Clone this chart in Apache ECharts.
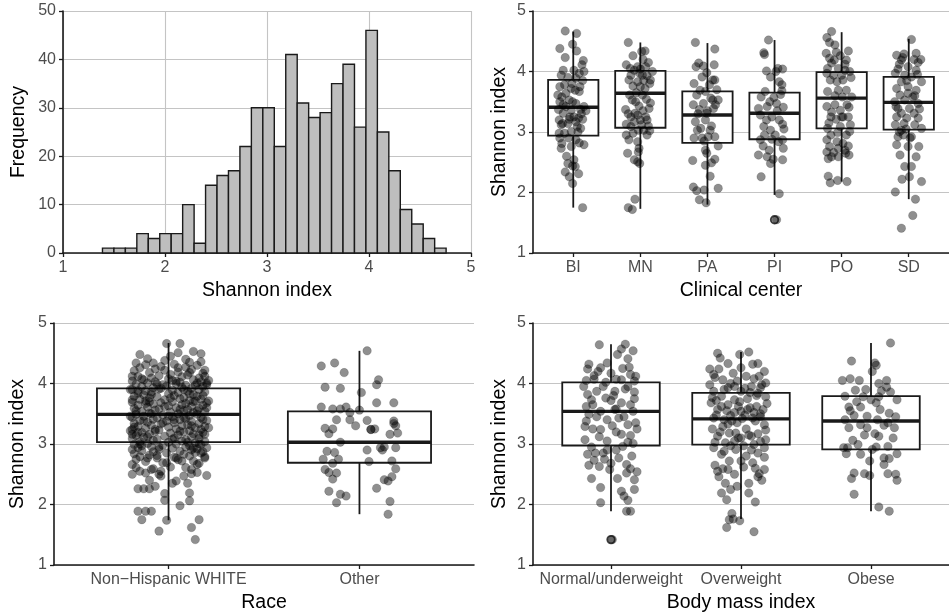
<!DOCTYPE html>
<html>
<head>
<meta charset="utf-8">
<script src="https://cdn.jsdelivr.net/npm/echarts@6/dist/echarts.min.js"></script>
<style>
html,body{margin:0;padding:0;background:#fff;}
#chart{width:949px;height:616px;}
</style>
</head>
<body>
<div id="chart"></div>
<script>
// ---------------- DATA ----------------
// Histogram (30 bins)
const histCounts = [1,1,1,4,3,4,4,10,2,14,16,17,22,30,30,22,41,31,28,29,35,39,26,46,25,17,9,6,3,1];
const histBinStart = 1.387;
const histBinWidth = 0.1123;

// Clinical center
const centerNames = ['BI','MN','PA','PI','PO','SD'];
// [lower whisker, Q1, median, Q3, upper whisker]
const centerBoxes = [
  [1.75,2.94,3.41,3.86,4.66],
  [1.73,3.07,3.64,4.01,4.48],
  [1.80,2.82,3.28,3.67,4.47],
  [1.96,2.88,3.31,3.65,4.52],
  [2.18,3.06,3.56,3.99,4.65],
  [1.89,3.04,3.49,3.91,4.54]
];
const centerOutliers = [[],[],[],[1.55],[],[]];
// jittered points: [jitter offset, Shannon index]
const ptsBI = [[-0.12,4.67],[0.05,4.63],[-0.01,4.45],[-0.20,4.38],[0.05,4.34],[-0.12,4.23],[0.15,4.18],[0.13,4.11],[-0.15,4.02],[0.01,4.02],[0.09,3.97],[-0.18,3.94],[-0.08,3.90],[0.04,3.89],[-0.02,3.80],[-0.13,3.78],[0.14,3.85],[-0.20,3.75],[-0.03,3.72],[0.03,3.69],[0.09,3.67],[-0.11,3.64],[-0.17,3.58],[-0.06,3.53],[-0.01,3.50],[0.04,3.47],[-0.20,3.50],[0.16,3.42],[0.11,3.37],[-0.11,3.42],[-0.22,3.37],[-0.03,3.36],[-0.15,3.31],[0.01,3.25],[0.08,3.23],[-0.06,3.21],[-0.21,3.20],[0.14,3.21],[-0.08,3.14],[0.04,3.17],[-0.18,3.12],[0.11,3.06],[-0.03,3.01],[-0.13,2.98],[-0.20,2.90],[-0.07,2.90],[0.04,2.87],[-0.17,2.81],[0.09,2.82],[0.16,2.79],[-0.18,2.73],[-0.03,2.76],[0.01,2.54],[0.03,2.43],[-0.12,2.34],[0.08,2.31],[-0.06,2.26],[-0.01,2.15],[0.14,1.75],[-0.01,2.44],[-0.08,2.48],[-0.21,2.98],[0.06,3.09],[-0.16,3.14],[-0.23,3.61],[0.19,3.35],[0.10,3.75],[-0.15,3.45],[0.12,3.30],[-0.05,3.25],[0.07,3.00],[-0.10,2.60],[0.16,4.00]];
const ptsMN = [[-0.18,4.48],[0.02,4.33],[0.07,4.34],[-0.11,4.26],[0.04,4.20],[-0.21,4.11],[-0.04,4.08],[0.08,4.08],[0.00,4.04],[-0.09,4.02],[0.18,4.00],[-0.14,3.94],[0.03,3.94],[0.10,3.93],[-0.17,3.86],[-0.04,3.83],[0.14,3.80],[-0.11,3.76],[0.00,3.75],[0.07,3.72],[-0.16,3.61],[-0.07,3.50],[0.09,3.54],[-0.02,3.43],[-0.22,3.37],[0.13,3.39],[0.04,3.35],[-0.14,3.25],[-0.04,3.28],[0.08,3.25],[-0.21,3.13],[-0.09,3.17],[0.00,3.20],[0.12,3.10],[-0.14,3.09],[0.05,3.03],[-0.03,3.03],[-0.21,2.95],[0.10,2.95],[-0.17,2.87],[-0.04,2.84],[-0.02,2.73],[-0.19,2.65],[-0.03,2.67],[-0.09,2.54],[-0.04,2.51],[-0.01,2.48],[-0.08,1.89],[-0.18,1.75],[-0.12,1.72],[0.15,3.86],[-0.12,3.53],[0.03,3.61],[-0.08,3.31],[0.10,3.20],[-0.01,3.97],[0.12,4.15],[-0.15,4.05],[0.05,3.85],[-0.06,3.65],[0.15,3.48],[-0.18,3.30],[0.02,3.12],[0.14,3.02],[-0.11,2.98]];
const ptsPA = [[-0.18,4.48],[0.11,4.37],[-0.13,4.14],[-0.06,4.09],[0.10,4.11],[-0.17,4.08],[-0.01,3.98],[-0.08,3.91],[0.08,3.86],[0.11,3.86],[-0.20,3.80],[0.03,3.78],[-0.11,3.69],[-0.03,3.67],[-0.16,3.61],[0.05,3.56],[0.16,3.53],[-0.21,3.45],[-0.06,3.47],[0.09,3.39],[-0.12,3.37],[-0.01,3.31],[-0.18,3.17],[-0.03,3.20],[-0.10,3.06],[-0.15,3.03],[0.04,3.03],[0.11,2.92],[-0.20,2.90],[-0.08,2.90],[0.01,2.92],[0.16,2.77],[-0.03,2.70],[-0.01,2.65],[-0.22,2.53],[0.11,2.55],[-0.03,2.45],[0.06,2.49],[0.04,2.27],[-0.21,2.09],[-0.16,2.03],[0.16,2.07],[-0.05,2.04],[-0.12,1.88],[-0.02,1.83],[0.08,3.53],[0.00,3.35],[0.14,3.70],[-0.14,3.30],[0.06,3.10],[-0.05,2.85],[0.12,3.45]];
const ptsPI = [[-0.09,4.52],[-0.16,4.31],[-0.15,4.28],[-0.12,4.01],[0.12,4.04],[0.02,4.00],[-0.06,3.91],[0.07,3.83],[0.11,3.78],[-0.14,3.67],[-0.01,3.57],[0.11,3.68],[-0.20,3.58],[-0.07,3.50],[0.03,3.47],[-0.24,3.39],[-0.11,3.42],[0.13,3.41],[-0.21,3.28],[-0.04,3.25],[0.07,3.20],[-0.16,3.09],[0.12,3.13],[-0.06,3.03],[0.01,2.95],[-0.15,2.95],[-0.21,2.87],[-0.04,2.88],[0.06,2.84],[0.12,2.87],[-0.17,2.77],[0.13,2.73],[-0.24,2.62],[-0.11,2.59],[-0.02,2.55],[0.12,2.54],[-0.06,2.48],[-0.20,2.26],[0.07,1.98],[0.03,1.55],[0.09,3.62],[-0.12,3.20],[0.04,3.35],[0.14,3.05],[-0.08,2.70],[0.05,4.05]];
const ptsPO = [[-0.15,4.66],[-0.22,4.56],[-0.18,4.48],[0.10,4.34],[-0.10,4.44],[-0.23,4.30],[-0.02,4.26],[0.07,4.19],[-0.15,4.14],[-0.21,4.05],[-0.05,4.05],[0.05,4.02],[0.12,4.00],[-0.12,3.94],[-0.22,3.97],[0.00,3.94],[-0.17,3.86],[-0.07,3.83],[-0.21,3.67],[-0.05,3.69],[0.07,3.69],[0.01,3.58],[-0.22,3.42],[-0.10,3.45],[0.11,3.41],[-0.02,3.36],[-0.16,3.25],[0.02,3.25],[0.10,3.25],[-0.08,3.21],[-0.21,3.06],[-0.02,3.09],[0.12,3.01],[-0.16,2.95],[0.07,2.95],[-0.22,2.87],[-0.07,2.84],[0.02,2.81],[-0.18,2.76],[0.10,2.77],[-0.05,2.73],[-0.22,2.67],[-0.12,2.66],[0.06,2.65],[-0.20,2.56],[-0.05,2.59],[-0.15,2.59],[0.11,2.62],[-0.20,2.27],[-0.17,2.16],[-0.06,2.20],[0.08,2.18],[-0.11,4.19],[0.02,3.86],[0.00,3.25],[0.05,4.12],[-0.18,4.22],[0.14,3.90],[-0.10,3.60],[0.08,3.45],[-0.15,3.33],[0.13,3.12],[-0.06,2.99],[0.05,2.70],[-0.19,3.15],[0.15,3.58],[-0.08,4.32]];
const ptsSD = [[0.04,4.53],[-0.18,4.27],[-0.07,4.29],[0.11,4.30],[-0.11,4.19],[0.08,4.20],[0.14,4.15],[-0.16,4.04],[-0.01,4.08],[-0.20,3.97],[0.11,4.02],[-0.06,3.94],[0.04,3.91],[-0.11,3.83],[0.19,3.83],[-0.18,3.72],[-0.01,3.75],[0.11,3.69],[-0.13,3.61],[0.06,3.58],[-0.06,3.53],[-0.21,3.50],[0.14,3.47],[-0.16,3.39],[0.01,3.39],[-0.11,3.31],[0.08,3.31],[-0.18,3.25],[0.14,3.23],[-0.03,3.23],[-0.20,3.12],[0.19,3.06],[-0.11,3.03],[-0.16,2.92],[-0.08,2.95],[0.04,2.92],[-0.18,2.79],[-0.01,2.76],[0.15,2.76],[-0.13,2.62],[0.11,2.59],[-0.06,2.43],[0.04,2.43],[-0.10,2.22],[0.01,2.26],[0.19,2.18],[-0.20,2.01],[0.10,1.89],[0.06,1.62],[-0.11,1.41],[-0.01,3.64],[-0.07,3.14],[-0.14,4.12],[0.13,3.95],[-0.03,3.85],[0.09,3.60],[-0.19,3.42],[0.16,3.38],[-0.04,3.05],[0.09,3.12],[-0.14,3.00],[0.02,2.90],[0.18,4.20],[-0.09,4.23]];

// Race
const raceNames = ['Non\u2212Hispanic WHITE','Other'];
const raceBoxes = [
  [1.74,3.03,3.49,3.92,4.67],
  [1.84,2.69,3.03,3.54,4.54]
];
const raceOutliers = [[],[]];
const ptsNHW = [[-0.01,4.66],[0.06,4.66],[-0.15,4.48],[0.13,4.53],[0.17,4.49],[0.05,4.51],[-0.17,4.34],[-0.08,4.34],[0.01,4.45],[0.11,4.35],[0.19,4.22],[-0.19,4.12],[0.20,4.01],[-0.19,3.73],[0.21,3.71],[-0.20,3.46],[0.21,3.27],[-0.19,3.16],[0.20,2.94],[-0.19,2.91],[-0.19,2.66],[0.19,2.79],[0.20,2.48],[-0.15,2.55],[-0.12,2.52],[-0.09,2.58],[-0.05,2.50],[0.09,2.61],[0.12,2.51],[-0.16,2.26],[-0.13,2.26],[-0.10,2.26],[-0.07,2.30],[-0.02,2.18],[0.10,2.35],[0.11,2.19],[-0.02,2.07],[0.11,2.06],[0.06,1.98],[-0.16,1.89],[-0.12,1.89],[-0.09,1.89],[-0.14,1.75],[-0.01,1.74],[0.16,1.75],[-0.05,1.56],[0.12,1.62],[0.14,1.42],[-0.04,2.47],[-0.01,2.69],[0.04,2.39],[0.15,2.66],[0.08,2.47],[-0.17,2.75],[-0.11,2.77],[-0.06,2.77],[0.04,2.77],[0.13,2.72],[0.17,2.85],
[-0.12,4.31],[-0.04,4.28],[0.03,4.32],[0.09,4.27],[0.15,4.30],[-0.18,4.21],[-0.10,4.18],[-0.02,4.22],[0.05,4.19],[0.12,4.23],[0.18,4.17],[-0.16,4.12],[-0.09,4.09],[-0.05,4.13],[0.00,4.08],[0.07,4.11],[0.10,4.14],[0.16,4.09],[0.19,4.12],[-0.19,4.04],[-0.13,4.06],[-0.07,4.03],[0.02,4.05],[0.06,4.02],[0.13,4.06],[0.17,4.03],[-0.17,3.99],[-0.11,4.01],[-0.03,3.98],[0.04,4.00],[0.09,3.97],[0.15,4.01],[0.20,3.98],[-0.14,3.95],[-0.08,3.93],[-0.01,3.96],[0.07,3.94],[0.12,3.92],[0.18,3.95],[-0.19,3.90],[-0.12,3.88],[-0.05,3.91],[0.02,3.89],[0.10,3.87],[0.16,3.90],[-0.16,3.84],[-0.09,3.86],[0.00,3.83],[0.05,3.85],[0.13,3.82],[0.19,3.86],[-0.18,3.79],[-0.13,3.81],[-0.06,3.78],[0.03,3.80],[0.08,3.77],[0.15,3.79],[-0.15,3.74],[-0.10,3.76],[-0.02,3.73],[0.06,3.75],[0.11,3.72],[0.17,3.74],[-0.19,3.69],[-0.12,3.71],[-0.04,3.68],[0.02,3.70],[0.09,3.67],[0.14,3.71],[0.20,3.68],[-0.16,3.64],[-0.08,3.66],[0.00,3.63],[0.07,3.65],[0.12,3.62],[0.18,3.64],[-0.18,3.59],[-0.11,3.61],[-0.05,3.58],[0.04,3.60],[0.10,3.57],[0.16,3.59],[-0.14,3.54],[-0.07,3.56],[0.01,3.53],[0.08,3.55],[0.13,3.52],[0.19,3.54],[-0.17,3.49],[-0.10,3.51],[-0.03,3.48],[0.05,3.50],[0.11,3.47],[0.15,3.49],[-0.19,3.44],[-0.13,3.46],[-0.06,3.43],[0.02,3.45],[0.09,3.42],[0.17,3.44],[-0.15,3.39],[-0.08,3.41],[-0.01,3.38],[0.06,3.40],[0.12,3.37],[0.20,3.39],[-0.18,3.34],[-0.11,3.36],[-0.04,3.33],[0.03,3.35],[0.10,3.32],[0.16,3.34],[-0.16,3.29],[-0.09,3.31],[0.00,3.28],[0.07,3.30],[0.14,3.27],[0.19,3.29],[-0.19,3.24],[-0.12,3.26],[-0.05,3.23],[0.04,3.25],[0.11,3.22],[0.17,3.24],[-0.14,3.19],[-0.07,3.21],[0.01,3.18],[0.08,3.20],[0.13,3.17],[0.18,3.19],[-0.17,3.14],[-0.10,3.16],[-0.02,3.13],[0.05,3.15],[0.12,3.12],[-0.19,3.09],[-0.13,3.11],[-0.06,3.08],[0.03,3.10],[0.09,3.07],[0.16,3.09],[-0.15,3.04],[-0.08,3.06],[0.00,3.03],[0.07,3.05],[0.14,3.02],[0.19,3.04],[-0.18,2.99],[-0.11,3.01],[-0.03,2.98],[0.04,3.00],[0.11,2.97],[0.17,2.99],[-0.16,2.94],[-0.09,2.96],[0.02,2.93],[0.09,2.95],[0.15,2.92],[-0.14,2.89],[-0.05,2.91],[0.06,2.88],[0.12,2.90],[0.18,2.87],[-0.18,2.84],[-0.10,2.82],[-0.01,2.85],[0.08,2.83],[0.14,2.86],[-0.15,2.79],[-0.06,2.81],[0.03,2.78],[0.11,2.80],[0.19,2.77],[-0.12,2.71],[-0.03,2.69],[0.07,2.72],[0.16,2.68],[-0.17,2.61],[-0.08,2.59],[0.01,2.62],[0.12,2.58],
[-0.07,4.24],[0.01,4.15],[0.11,4.18],[-0.14,4.08],[0.04,4.04],[0.14,3.97],[-0.04,3.92],[0.08,3.90],[-0.16,3.88],[0.18,3.80],[-0.09,3.82],[0.01,3.76],[0.13,3.70],[-0.12,3.67],[-0.02,3.62],[0.06,3.57],[0.15,3.55],[-0.17,3.55],[-0.09,3.50],[0.00,3.46],[0.08,3.44],[0.18,3.41],[-0.13,3.39],[-0.03,3.35],[0.12,3.30],[-0.18,3.28],[-0.07,3.24],[0.06,3.21],[0.16,3.15],[-0.11,3.12],[0.02,3.08],[0.10,3.03],[-0.15,3.00],[-0.05,2.95],[0.13,2.93],[-0.20,3.22],[0.20,3.60],[-0.20,3.90],[0.21,4.05],[-0.02,4.38],[0.09,4.40],[-0.11,4.41],[0.17,4.36],[-0.15,4.26],[0.05,4.26],[-0.06,3.99],[0.11,3.83],[-0.10,3.70],[0.03,3.40],[-0.16,3.19],[0.16,3.00],[-0.08,2.87],[0.05,2.74],[-0.14,2.97],[0.19,3.16],[-0.04,2.55],[0.15,2.53],[-0.19,2.50],[0.02,2.35],[-0.10,2.40]];
const ptsOther = [[0.04,4.54],[-0.20,4.29],[-0.13,4.34],[-0.08,4.18],[0.10,4.06],[0.09,3.98],[-0.18,3.94],[-0.10,3.92],[0.01,3.85],[0.09,3.68],[0.18,3.68],[-0.20,3.61],[-0.14,3.58],[-0.10,3.58],[-0.07,3.61],[-0.05,3.52],[0.00,3.56],[-0.12,3.40],[-0.05,3.40],[0.04,3.39],[0.18,3.38],[0.19,3.30],[-0.02,3.30],[-0.18,3.26],[-0.14,3.25],[0.06,3.24],[0.08,3.25],[-0.16,3.17],[0.16,3.16],[0.20,3.18],[-0.10,3.03],[0.11,2.94],[0.13,2.95],[0.12,2.90],[0.19,2.94],[-0.17,2.88],[-0.13,2.86],[0.04,2.90],[-0.19,2.75],[-0.11,2.75],[0.05,2.71],[0.17,2.72],[-0.14,2.68],[-0.18,2.58],[-0.16,2.53],[-0.12,2.52],[0.19,2.59],[-0.14,2.42],[0.13,2.41],[0.15,2.39],[0.17,2.46],[0.09,2.27],[-0.16,2.22],[-0.10,2.17],[-0.07,2.14],[-0.12,2.03],[0.16,2.05],[0.15,1.84],[0.18,3.34],[0.06,3.24]];

// Body mass index
const bmiNames = ['Normal/underweight','Overweight','Obese'];
const bmiBoxes = [
  [1.89,2.975,3.54,4.02,4.65],
  [1.76,2.99,3.415,3.845,4.52],
  [1.89,2.91,3.38,3.79,4.67]
];
const bmiOutliers = [[1.42],[],[]];
const ptsNormal = [[-0.09,4.64],[0.11,4.65],[0.08,4.57],[0.17,4.54],[0.13,4.41],[0.05,4.48],[-0.17,4.32],[-0.03,4.34],[0.14,4.27],[-0.08,4.26],[-0.18,4.24],[0.00,4.17],[0.15,4.15],[0.19,4.12],[-0.13,4.13],[0.08,4.06],[-0.04,4.02],[-0.21,3.95],[0.11,3.91],[0.18,4.04],[-0.11,3.87],[0.03,3.87],[-0.18,3.82],[0.18,3.86],[-0.04,3.76],[-0.15,3.73],[0.00,3.72],[0.08,3.68],[-0.19,3.62],[0.15,3.65],[0.04,3.58],[-0.08,3.54],[0.17,3.54],[-0.17,3.49],[-0.11,3.45],[0.06,3.43],[-0.03,3.40],[-0.20,3.29],[0.13,3.32],[-0.14,3.25],[0.20,3.25],[-0.08,3.24],[0.04,3.20],[0.08,3.16],[0.15,3.14],[-0.20,3.07],[-0.03,3.05],[0.13,3.03],[0.17,3.01],[0.09,2.96],[-0.12,2.85],[-0.18,2.83],[-0.06,2.85],[0.06,2.77],[-0.13,2.73],[0.00,2.68],[0.12,2.66],[-0.09,2.63],[-0.17,2.65],[-0.01,2.58],[0.15,2.59],[0.20,2.54],[0.12,2.52],[-0.15,2.43],[0.05,2.43],[0.18,2.41],[-0.08,2.28],[0.18,2.25],[0.08,2.22],[0.10,2.14],[0.13,2.07],[-0.08,2.03],[0.12,1.89],[0.15,1.89],[0.01,1.42],[-0.03,2.90],[0.03,3.57],[-0.13,4.07],[0.04,4.07],[-0.10,4.20],[0.09,4.25],[-0.19,4.05],[0.13,3.95],[-0.06,3.95],[0.02,3.80],[-0.14,3.65],[0.18,3.75],[0.10,3.45],[-0.19,3.38],[0.01,3.30],[-0.09,3.12],[0.19,3.35],[-0.15,2.95],[0.04,2.90],[0.16,2.80],[-0.05,2.75]];
const ptsOverweight = [[-0.18,4.50],[0.06,4.52],[-0.16,4.42],[-0.01,4.48],[0.13,4.33],[-0.10,4.33],[0.09,4.32],[-0.24,4.24],[-0.17,4.24],[0.00,4.26],[0.18,4.20],[-0.21,4.15],[-0.06,4.17],[0.04,4.12],[0.14,4.12],[-0.14,4.06],[-0.03,4.04],[0.19,4.01],[-0.24,3.98],[0.08,3.95],[-0.10,3.93],[-0.21,3.87],[0.00,3.87],[0.13,3.84],[-0.15,3.79],[0.19,3.78],[-0.05,3.73],[0.05,3.75],[-0.23,3.68],[-0.10,3.65],[0.12,3.62],[-0.18,3.57],[0.00,3.54],[0.17,3.57],[-0.08,3.47],[-0.21,3.43],[0.09,3.43],[-0.03,3.35],[-0.14,3.29],[0.18,3.32],[-0.22,3.25],[0.04,3.25],[-0.09,3.18],[0.13,3.17],[-0.18,3.13],[0.00,3.10],[0.19,3.07],[-0.12,3.02],[0.10,2.99],[-0.21,2.94],[-0.04,2.91],[0.18,2.94],[-0.15,2.83],[0.04,2.80],[0.13,2.85],[-0.09,2.72],[0.00,2.72],[0.09,2.69],[-0.14,2.59],[0.18,2.58],[0.14,2.51],[-0.18,2.55],[-0.10,2.58],[-0.17,2.46],[0.13,2.46],[0.06,2.35],[-0.08,2.25],[-0.03,2.30],[-0.15,2.19],[0.06,2.19],[-0.11,2.08],[0.11,2.04],[-0.07,1.85],[-0.09,1.75],[-0.06,1.76],[-0.01,1.73],[-0.11,1.62],[0.10,1.55],[-0.05,3.95],[0.05,3.57],[-0.05,3.05],[0.15,3.93],[-0.13,3.40],[0.08,3.13],[-0.02,3.62],[0.03,3.48],[-0.07,3.38],[0.10,3.52],[-0.19,3.72],[0.15,3.45],[-0.11,3.55],[0.07,3.85],[-0.04,3.18],[0.02,2.97],[-0.20,4.10],[0.10,4.08],[-0.08,4.00],[0.16,3.98],[-0.13,3.90],[0.03,3.92],[0.12,3.80],[-0.22,3.77],[-0.01,3.70],[0.20,3.67],[-0.15,3.62],[0.07,3.60],[-0.05,3.52],[0.15,3.50],[-0.19,3.48],[0.01,3.42],[0.11,3.38],[-0.10,3.33],[0.19,3.23],[-0.16,3.20],[0.06,3.15],[-0.02,3.10],[0.15,3.04],[-0.20,3.03],[-0.08,2.97],[0.08,2.90],[-0.13,2.88],[0.18,2.78],[0.02,2.62],[-0.20,2.65],[0.11,2.60],[-0.05,2.50],[0.16,2.40],[-0.12,2.35]];
const ptsObese = [[0.15,4.67],[-0.15,4.37],[0.03,4.34],[0.04,4.30],[0.01,4.20],[-0.22,4.05],[-0.16,4.08],[-0.09,4.05],[0.12,4.05],[0.06,4.00],[0.12,3.94],[-0.04,3.90],[-0.12,3.89],[0.15,3.86],[-0.20,3.79],[-0.06,3.78],[0.06,3.78],[0.00,3.73],[0.20,3.73],[0.04,3.68],[-0.17,3.61],[-0.08,3.61],[0.07,3.57],[0.14,3.51],[-0.13,3.47],[-0.03,3.46],[0.19,3.45],[-0.20,3.40],[0.05,3.40],[-0.08,3.32],[0.10,3.31],[-0.17,3.27],[-0.03,3.27],[0.18,3.27],[0.03,3.17],[0.06,3.13],[0.17,3.10],[-0.14,3.06],[-0.21,2.94],[-0.10,2.99],[0.13,2.96],[0.01,2.91],[-0.19,2.84],[-0.08,2.83],[0.20,2.84],[0.10,2.77],[-0.01,2.72],[0.14,2.76],[0.10,2.66],[-0.13,2.52],[-0.05,2.51],[0.13,2.51],[0.19,2.50],[-0.15,2.43],[0.20,2.40],[-0.01,2.48],[-0.13,2.17],[0.06,1.96],[0.14,1.89],[-0.18,2.94],[0.08,3.88],[-0.11,3.70],[0.13,3.35],[-0.05,3.15],[0.04,2.95],[-0.16,3.55]];

// ---------------- STYLE / BUILD ----------------
const FONT = '"Liberation Sans", Arial, sans-serif';
const tickLabelStyle = {color:'#4d4d4d', fontSize:16, fontFamily:FONT};
const nameStyle = {color:'#000', fontSize:19.5, fontFamily:FONT};
const axisLineStyle = {show:true, lineStyle:{color:'#1a1a1a', width:1.6}};
const axisTickStyle = {show:true, length:4, lineStyle:{color:'#1a1a1a', width:1.3}};
const gridLineStyle = {show:true, lineStyle:{color:'#c4c4c4', width:1.1}};
const POINT_COLOR = 'rgba(0,0,0,0.55)';

const chart = echarts.init(document.getElementById('chart'), null, {renderer:'canvas'});

const grids = [
  {left:63, top:11, width:408, height:242},
  {left:533, top:11, width:416, height:242},
  {left:54, top:323, width:420, height:242},
  {left:533, top:323, width:416, height:242}
];

function catXAxis(gridIndex, names, title, gap){
  const vals = names.map((n,i)=>i+1);
  return {
    type:'value', gridIndex, min:0.4, max:names.length+0.6,
    name:title, nameLocation:'middle', nameGap:gap, nameTextStyle:nameStyle,
    axisLine:axisLineStyle,
    axisTick:Object.assign({}, axisTickStyle, {customValues:vals}),
    axisLabel:Object.assign({}, tickLabelStyle, {customValues:vals, margin:7,
      formatter:(v)=>names[Math.round(v)-1] || ''}),
    splitLine:{show:false}
  };
}
function shannonYAxis(gridIndex, gap){
  return {
    type:'value', gridIndex, min:1, max:5, interval:1,
    name:'Shannon index', nameLocation:'middle', nameGap:gap, nameTextStyle:nameStyle,
    axisLine:axisLineStyle, axisTick:axisTickStyle,
    axisLabel:Object.assign({}, tickLabelStyle, {margin:7}),
    splitLine:gridLineStyle
  };
}

const xAxes = [
  {type:'value', gridIndex:0, min:1, max:5, interval:1,
   name:'Shannon index', nameLocation:'middle', nameGap:28, nameTextStyle:nameStyle,
   axisLine:axisLineStyle, axisTick:axisTickStyle,
   axisLabel:Object.assign({}, tickLabelStyle, {margin:7}),
   splitLine:gridLineStyle},
  catXAxis(1, centerNames, 'Clinical center', 28),
  catXAxis(2, raceNames, 'Race', 28),
  catXAxis(3, bmiNames, 'Body mass index', 28)
];
const yAxes = [
  {type:'value', gridIndex:0, min:0, max:50, interval:10,
   name:'Frequency', nameLocation:'middle', nameGap:34, nameTextStyle:nameStyle,
   axisLine:axisLineStyle, axisTick:axisTickStyle,
   axisLabel:Object.assign({}, tickLabelStyle, {margin:7}),
   splitLine:gridLineStyle},
  shannonYAxis(1, 23),
  shannonYAxis(2, 26),
  shannonYAxis(3, 23)
];

const series = [];

// histogram
const histData = histCounts.map((c,i)=>[histBinStart+i*histBinWidth, histBinStart+(i+1)*histBinWidth, c]);
series.push({
  type:'custom', xAxisIndex:0, yAxisIndex:0, silent:true,
  data:histData,
  encode:{x:[0,1], y:2},
  renderItem:(params, api)=>{
    const p0 = api.coord([api.value(0), api.value(2)]);
    const p1 = api.coord([api.value(1), 0]);
    return {type:'rect', shape:{x:p0[0], y:p0[1], width:p1[0]-p0[0], height:p1[1]-p0[1]},
      style:{fill:'#bebebe', stroke:'#1a1a1a', lineWidth:1.4}};
  }
});

function addBoxPanel(axisIdx, boxes, outliers, pointGroups){
  const boxData = boxes.map((b,i)=>[i+1].concat(b));
  series.push({
    type:'custom', xAxisIndex:axisIdx, yAxisIndex:axisIdx, silent:true,
    data:boxData, encode:{x:0, y:[1,2,3,4,5]},
    renderItem:(params, api)=>{
      const x = api.value(0), hw = 0.375;
      const lo = api.value(1), q1 = api.value(2), md = api.value(3), q3 = api.value(4), hi = api.value(5);
      const cTop = api.coord([x, hi]), cQ3 = api.coord([x, q3]), cQ1 = api.coord([x, q1]), cLo = api.coord([x, lo]);
      const L = api.coord([x-hw, q3])[0], R = api.coord([x+hw, q3])[0];
      const yMed = api.coord([x, md])[1];
      const ls = {stroke:'#1a1a1a', lineWidth:1.8};
      return {type:'group', children:[
        {type:'line', shape:{x1:cTop[0], y1:cTop[1], x2:cQ3[0], y2:cQ3[1]}, style:ls},
        {type:'line', shape:{x1:cQ1[0], y1:cQ1[1], x2:cLo[0], y2:cLo[1]}, style:ls},
        {type:'rect', shape:{x:L, y:cQ3[1], width:R-L, height:cQ1[1]-cQ3[1]}, style:{fill:'#fff', stroke:'#1a1a1a', lineWidth:1.8}},
        {type:'line', shape:{x1:L, y1:yMed, x2:R, y2:yMed}, style:{stroke:'#1a1a1a', lineWidth:3.4}}
      ]};
    }
  });
  const outData = [];
  outliers.forEach((arr,i)=>arr.forEach(v=>outData.push([i+1, v])));
  const ptData = [];
  pointGroups.forEach((grp,i)=>grp.forEach(p=>ptData.push([i+1+p[0], p[1]])));
  series.push({
    type:'scatter', xAxisIndex:axisIdx, yAxisIndex:axisIdx, silent:true,
    data:ptData, symbol:'circle', symbolSize:8.5,
    itemStyle:{color:POINT_COLOR, borderColor:'rgba(0,0,0,0.25)', borderWidth:0.8}, z:3
  });
  series.push({
    type:'scatter', xAxisIndex:axisIdx, yAxisIndex:axisIdx, silent:true,
    data:outData, symbol:'circle', symbolSize:7.5,
    itemStyle:{color:'rgba(0,0,0,0.35)', borderColor:'#111', borderWidth:1.8}, z:4
  });
}

addBoxPanel(1, centerBoxes, centerOutliers, [ptsBI, ptsMN, ptsPA, ptsPI, ptsPO, ptsSD]);
addBoxPanel(2, raceBoxes, raceOutliers, [ptsNHW, ptsOther]);
addBoxPanel(3, bmiBoxes, bmiOutliers, [ptsNormal, ptsOverweight, ptsObese]);

chart.setOption({
  animation:false,
  backgroundColor:'#fff',
  grid:grids,
  xAxis:xAxes,
  yAxis:yAxes,
  series:series
});
</script>
</body>
</html>
